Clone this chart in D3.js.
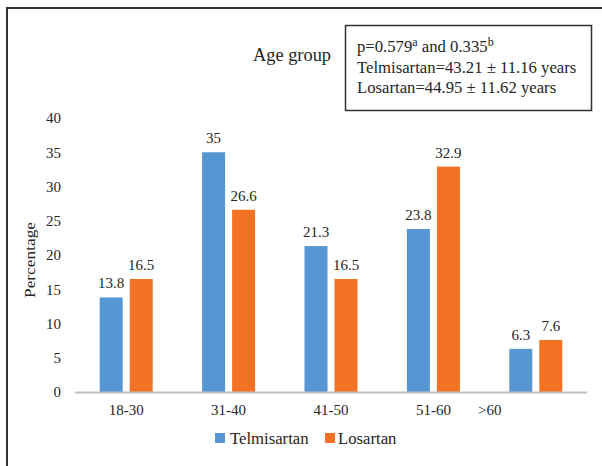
<!DOCTYPE html>
<html><head><meta charset="utf-8">
<script src="https://cdn.jsdelivr.net/npm/d3@7"></script>
<style>body{margin:0;background:#fff}svg{display:block}</style>
</head><body>
<script>
const categories = ["18-30","31-40","41-50","51-60",">60"];
const telmisartan = [13.8, 35, 21.3, 23.8, 6.3];
const losartan = [16.5, 26.6, 16.5, 32.9, 7.6];
const yTicks = [0,5,10,15,20,25,30,35,40];
const seriesNames = ["Telmisartan","Losartan"];
const colors = ["#5696d3","#f47224"];

const W=602,H=466;
const svg=d3.select("body").append("svg").attr("width",W).attr("height",H)
  .attr("font-family","Liberation Serif, Times New Roman, serif").attr("fill","#262626");
// outer frame
svg.append("path").attr("d","M7,470 L7,8 L602,8").attr("fill","none").attr("stroke","#333").attr("stroke-width",2);

const x=d3.scaleBand().domain(categories).range([75,587]);
const y=d3.scaleLinear().domain([0,40]).range([392,118]);
const barW=23, gap=7;

// y labels
svg.append("g").selectAll("text").data(yTicks).join("text")
  .attr("x",61).attr("y",d=>y(d)).attr("dy","0.35em").attr("text-anchor","end")
  .attr("font-size",15).text(d=>d);
svg.append("text").attr("transform","translate(35,260) rotate(-90)")
  .attr("text-anchor","middle").attr("font-size",15)
  .attr("textLength",76).attr("lengthAdjust","spacingAndGlyphs").text("Percentage");

const series=[telmisartan,losartan];
series.forEach((vals,si)=>{
  const off = si===0 ? -(barW+gap/2) : gap/2;
  const g=svg.append("g");
  g.selectAll("rect").data(vals).join("rect")
    .attr("x",(d,i)=>x(categories[i])+x.bandwidth()/2+off)
    .attr("y",d=>y(d)).attr("width",barW).attr("height",d=>y(0)-y(d))
    .attr("fill",colors[si]);
  g.selectAll("text").data(vals).join("text")
    .attr("x",(d,i)=>x(categories[i])+x.bandwidth()/2+off+barW/2)
    .attr("y",d=>y(d)-9).attr("text-anchor","middle").attr("font-size",15).text(d=>d);
});

// baseline
svg.append("line").attr("x1",75).attr("x2",587).attr("y1",y(0)+0.5).attr("y2",y(0)+0.5)
  .attr("stroke","#bfbfbf").attr("stroke-width",2);

// x labels (last label sits left of its group in the original)
svg.append("g").selectAll("text").data(categories).join("text")
  .attr("x",(d,i)=>x(d)+x.bandwidth()/2 - (i===categories.length-1?46:0))
  .attr("y",415).attr("text-anchor","middle").attr("font-size",15).text(d=>d);

// legend
const lg=svg.append("g");
[[215,230],[325,338]].forEach((p,i)=>{
  lg.append("rect").attr("x",p[0]).attr("y",433).attr("width",10).attr("height",10).attr("fill",colors[i]);
  lg.append("text").attr("x",p[1]).attr("y",444).attr("font-size",16.7).text(seriesNames[i]);
});

// title
svg.append("text").attr("x",292).attr("y",61).attr("text-anchor","middle").attr("font-size",18.4).text("Age group");

// info box
svg.append("rect").attr("x",345.5).attr("y",25.5).attr("width",246).attr("height",85)
  .attr("fill","#fff").attr("stroke","#333").attr("stroke-width",1.5);
const fs=16.7;
const t1=svg.append("text").attr("x",357).attr("y",52).attr("font-size",fs);
t1.append("tspan").text("p=0.579");
t1.append("tspan").attr("font-size",12).attr("dy",-6).text("a");
t1.append("tspan").attr("dy",6).text(" and 0.335");
t1.append("tspan").attr("font-size",12).attr("dy",-6).text("b");
svg.append("text").attr("x",357).attr("y",73).attr("font-size",fs).text("Telmisartan=43.21 ± 11.16 years");
svg.append("text").attr("x",357).attr("y",93).attr("font-size",fs).text("Losartan=44.95 ± 11.62 years");
</script>
</body></html>
